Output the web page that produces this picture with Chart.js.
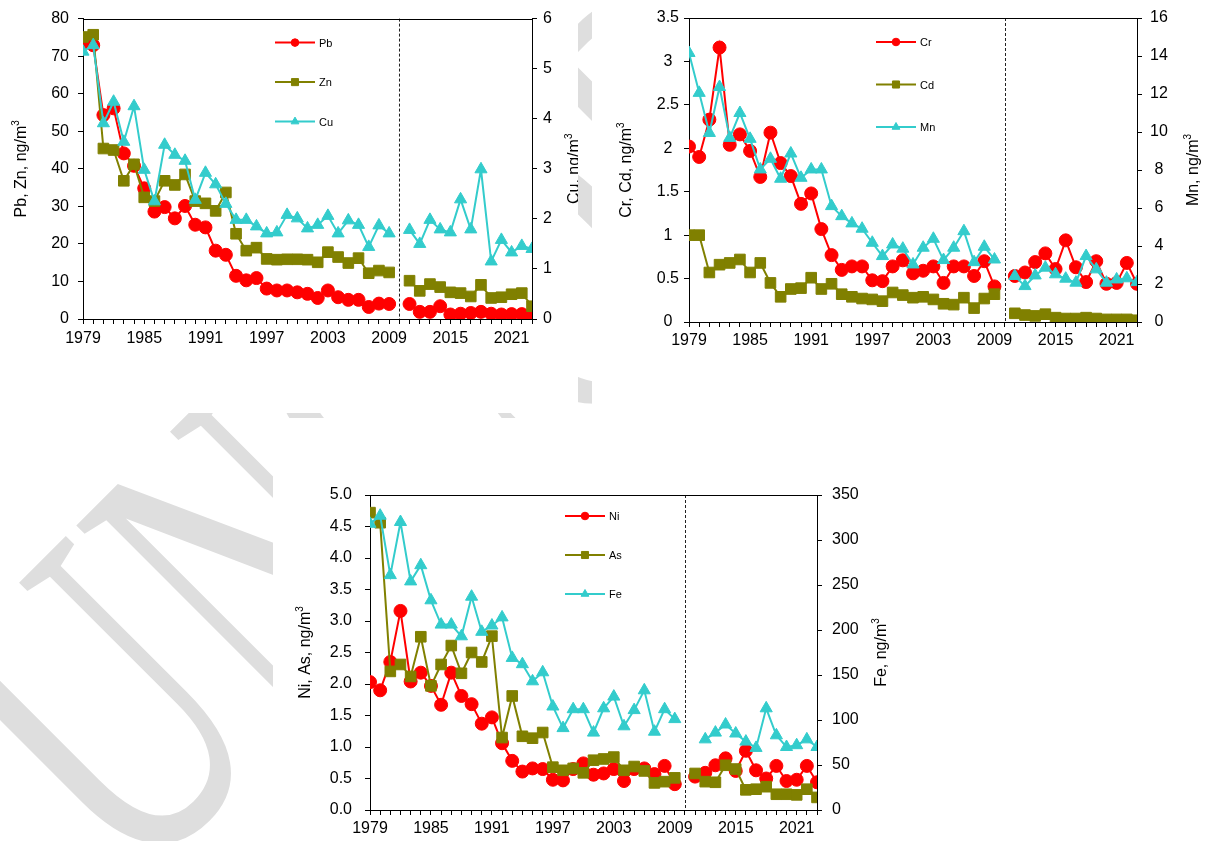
<!DOCTYPE html>
<html>
<head>
<meta charset="utf-8">
<script src="https://cdn.jsdelivr.net/npm/chart.js@4.4.0/dist/chart.umd.min.js"></script>
<style>
  body { margin: 0; background: #fff; width: 1212px; height: 841px; overflow: hidden; position: relative; }
  #bg { position: absolute; left: 0; top: 0; }
  .panel { position: absolute; background: #fff; overflow: hidden; }
  .panel canvas { position: absolute; left: 0; top: 0; }
</style>
</head>
<body>
<canvas id="bg" width="1212" height="841"></canvas>
<div class="panel" style="left:0;top:0;width:578px;height:413px"><canvas id="c1" width="578" height="345"></canvas></div>
<div class="panel" style="left:592px;top:0;width:620px;height:413px"><canvas id="c2" width="620" height="345"></canvas></div>
<div class="panel" style="left:273px;top:418px;width:640px;height:423px"><canvas id="c3" width="640" height="423"></canvas></div>
<script>
"use strict"

const YEARS = [1979, 1980, 1981, 1982, 1983, 1984, 1985, 1986, 1987, 1988, 1989, 1990, 1991, 1992, 1993,
    1994, 1995, 1996, 1997, 1998, 1999, 2000, 2001, 2002, 2003, 2004, 2005, 2006, 2007, 2008, 2009,
    2010, 2011, 2012, 2013, 2014, 2015, 2016, 2017, 2018, 2019, 2020, 2021, 2022, 2023];

// chart 1, ng/m3
const PB = [73.3, 72.9, 54.3, 56.1, 44.1, 40.8, 34.8, 28.6, 29.8, 26.8, 30.1, 25.1, 24.4, 18.2, 17.1,
    11.5, 10.3, 10.9, 8.1, 7.6, 7.6, 7.1, 6.7, 5.6, 7.6, 5.8, 5.1, 5.1, 3.2, 4.1, 4.0,
    null, 4.0, 1.9, 1.9, 3.4, 1.2, 1.4, 1.6, 1.9, 1.4, 1.2, 1.3, 1.3, 0.7];
const ZN = [75.1, 75.7, 45.4, 45.0, 36.8, 41.2, 32.4, 31.4, 36.8, 35.7, 38.5, 31.4, 30.8, 28.8, 33.7,
    22.7, 18.2, 19.0, 16.0, 15.8, 15.9, 15.9, 15.8, 15.1, 17.8, 16.5, 14.9, 16.2, 12.2, 12.9, 12.4,
    null, 10.2, 7.5, 9.3, 8.5, 7.1, 6.9, 6.0, 9.1, 5.6, 5.8, 6.6, 6.9, 3.4];
const CU = [5.34, 5.47, 3.91, 4.34, 3.54, 4.25, 2.98, 2.35, 3.48, 3.28, 3.16, 2.38, 2.92, 2.69, 2.30,
    1.98, 1.98, 1.85, 1.71, 1.73, 2.08, 2.01, 1.81, 1.88, 2.06, 1.71, 1.97, 1.88, 1.44, 1.87, 1.71,
    null, 1.78, 1.50, 1.98, 1.79, 1.73, 2.39, 1.79, 2.99, 1.15, 1.58, 1.33, 1.46, 1.40];

// chart 2
const CR = [2.02, 1.90, 2.33, 3.16, 2.04, 2.16, 1.97, 1.67, 2.18, 1.83, 1.68, 1.36, 1.48, 1.07, 0.77,
    0.60, 0.64, 0.64, 0.48, 0.47, 0.64, 0.71, 0.56, 0.59, 0.64, 0.45, 0.64, 0.64, 0.53, 0.70, 0.41,
    null, 0.53, 0.57, 0.69, 0.79, 0.61, 0.94, 0.63, 0.46, 0.70, 0.44, 0.45, 0.68, 0.44];
const CD = [1.00, 1.00, 0.57, 0.66, 0.68, 0.72, 0.57, 0.68, 0.45, 0.29, 0.38, 0.39, 0.51, 0.38, 0.44,
    0.32, 0.29, 0.27, 0.26, 0.24, 0.34, 0.31, 0.28, 0.29, 0.26, 0.21, 0.20, 0.28, 0.16, 0.27, 0.32,
    null, 0.10, 0.08, 0.07, 0.09, 0.05, 0.04, 0.04, 0.05, 0.04, 0.03, 0.03, 0.03, 0.02];
const MN = [14.16, 12.06, 9.95, 12.37, 9.69, 11.0, 9.64, 8.03, 8.59, 7.54, 8.87, 7.59, 8.03, 8.03, 6.10,
    5.57, 5.19, 4.91, 4.17, 3.47, 4.08, 3.86, 3.03, 3.91, 4.38, 3.26, 3.91, 4.78, 3.15, 3.96, 3.29,
    null, 2.42, 1.89, 2.45, 2.86, 2.51, 2.28, 2.07, 3.47, 2.77, 2.07, 2.24, 2.30, 2.10];

// chart 3
const NI = [2.03, 1.90, 2.35, 3.16, 2.04, 2.18, 1.97, 1.67, 2.18, 1.81, 1.68, 1.37, 1.47, 1.06, 0.78,
    0.61, 0.66, 0.65, 0.48, 0.47, 0.65, 0.74, 0.56, 0.58, 0.65, 0.46, 0.65, 0.66, 0.57, 0.70, 0.41,
    null, 0.53, 0.59, 0.71, 0.82, 0.62, 0.94, 0.63, 0.50, 0.70, 0.46, 0.48, 0.70, 0.44];
const AS = [4.72, 4.56, 2.20, 2.31, 2.12, 2.75, 1.97, 2.31, 2.61, 2.17, 2.50, 2.35, 2.76, 1.15, 1.81,
    1.17, 1.14, 1.23, 0.68, 0.63, 0.66, 0.59, 0.79, 0.81, 0.84, 0.63, 0.69, 0.62, 0.43, 0.45, 0.51,
    null, 0.58, 0.45, 0.44, 0.71, 0.65, 0.32, 0.33, 0.37, 0.25, 0.25, 0.24, 0.33, 0.20];
const FE = [318, 327, 261, 320, 254, 272, 233, 206, 206, 193, 237, 198, 205, 214, 169,
    162, 143, 153, 115, 91, 112, 112, 86, 113, 126, 93, 111, 133, 87, 112, 101,
    null, null, 78.5, 86, 95, 85, 76, 69, 113, 83, 70, 72, 78.5, 70];

const BREAK_YEAR = 2010;

const RED = '#FF0000';
const OLIVE = '#808000';
const CYAN = '#33CCCC';
const FONT = '"Liberation Sans", Arial, sans-serif';

// watermark behind the panels (condensed serif, rotated)
const drawWatermark = () => {
    const ctx = document.getElementById('bg').getContext('2d');
    ctx.save();
    ctx.translate(130, 894);
    ctx.rotate(-Math.PI / 4);
    ctx.scale(0.65, 1);
    ctx.fillStyle = '#dedede';
    ctx.font = '456px "Liberation Serif"';
    ctx.fillText('UNCORRECTED PROOF', 0, 0);
    ctx.restore();
}

const series = (label, data, color, style, axis, order) => {
    const r = style === 'circle' ? 6.5 : (style === 'rect' ? 7.5 : 7);
    return {
        label, data,
        yAxisID: axis,
        order,
        borderColor: color,
        backgroundColor: color,
        pointBackgroundColor: color,
        pointBorderColor: color,
        pointStyle: style,
        pointRadius: r,
        pointHoverRadius: r,
        pointBorderWidth: 1,
        borderWidth: 2,
        tension: 0,
        spanGaps: false
    };
}

const xScale = (height, pad) => ({
    type: 'linear',
    min: 1979,
    max: 2023,
    ticks: {
        stepSize: 1,
        autoSkip: false,
        maxTicksLimit: 100,
        maxRotation: 0,
        minRotation: 0,
        padding: pad,
        color: '#000',
        font: { family: FONT, size: 16 },
        callback: v => ((v - 1979) % 6 === 0 ? String(v) : '')
    },
    grid: { drawOnChartArea: false, tickLength: 5, color: '#000' },
    border: { color: '#000', width: 1 },
    afterFit: s => { s.height = height; }
});

const yScale = (position, max, step, width, pad, fmt, align) => ({
    type: 'linear',
    position,
    min: 0,
    max,
    ticks: {
        stepSize: step,
        padding: pad,
        crossAlign: align || 'near',
        color: '#000',
        font: { family: FONT, size: 16 },
        callback: fmt || (v => String(v))
    },
    grid: { drawOnChartArea: false, tickLength: 5, color: '#000' },
    border: { color: '#000', width: 1 },
    afterFit: s => { s.width = width; }
});

// frame on top of the plot + dashed line where the record breaks
const framePlugin = {
    id: 'frame',
    beforeDatasetsDraw(chart) {
        const { ctx, chartArea: a, scales } = chart;
        const x = Math.round(scales.x.getPixelForValue(BREAK_YEAR)) + 0.5;
        ctx.save();
        ctx.strokeStyle = '#222';
        ctx.lineWidth = 1;
        ctx.setLineDash([3, 2]);
        ctx.beginPath();
        ctx.moveTo(x, a.top);
        ctx.lineTo(x, a.bottom);
        ctx.stroke();
        ctx.setLineDash([]);
        ctx.strokeStyle = '#000';
        ctx.beginPath();
        ctx.moveTo(a.left, Math.round(a.top) + 0.5);
        ctx.lineTo(a.right, Math.round(a.top) + 0.5);
        ctx.stroke();
        ctx.restore();
    }
};

// legend drawn inside the plot area
const legendPlugin = {
    id: 'innerLegend',
    afterDraw(chart, args, opts) {
        const { ctx, chartArea: a } = chart;
        const sizes = { circle: 3.8, rect: 5, triangle: 4.5 };
        ctx.save();
        chart.data.datasets.forEach((ds, i) => {
            const x0 = a.left + opts.left;
            const y = a.top + opts.top + i * opts.gap;
            ctx.strokeStyle = ds.borderColor;
            ctx.fillStyle = ds.borderColor;
            ctx.lineWidth = 2;
            ctx.beginPath();
            ctx.moveTo(x0, y);
            ctx.lineTo(x0 + 40, y);
            ctx.stroke();
            ctx.lineWidth = 1;
            Chart.helpers.drawPoint(ctx, { pointStyle: ds.pointStyle, radius: sizes[ds.pointStyle], borderWidth: 1, rotation: 0 }, x0 + 20, y);
            ctx.fillStyle = '#000';
            ctx.font = '11px ' + FONT;
            ctx.textBaseline = 'middle';
            ctx.textAlign = 'left';
            ctx.fillText(ds.label, x0 + 44, y + 1);
        });
        ctx.restore();
    }
};

// vertical axis titles, both reading upwards, with a raised "3"
const titlePlugin = {
    id: 'sideTitles',
    afterDraw(chart, args, opts) {
        const { ctx, chartArea: a } = chart;
        const yc = (a.top + a.bottom) / 2;
        const size = 16;
        const draw = (t) => {
            ctx.save();
            ctx.translate(t.x, yc);
            ctx.rotate(-Math.PI / 2);
            ctx.fillStyle = '#000';
            ctx.textBaseline = 'alphabetic';
            ctx.textAlign = 'left';
            ctx.font = size + 'px ' + FONT;
            const w1 = ctx.measureText(t.text).width;
            ctx.font = Math.round(size * 0.65) + 'px ' + FONT;
            const w2 = ctx.measureText('3').width;
            const x0 = -(w1 + w2) / 2;
            const base = size * 0.36;
            ctx.font = size + 'px ' + FONT;
            ctx.fillText(t.text, x0, base);
            ctx.font = Math.round(size * 0.65) + 'px ' + FONT;
            ctx.fillText('3', x0 + w1, base - size * 0.42);
            ctx.restore();
        };
        draw(opts.left);
        draw(opts.right);
    }
};

const makeChart = (id, sets, left, right, layout) => {
    return new Chart(document.getElementById(id), {
        type: 'line',
        data: { labels: YEARS, datasets: sets },
        options: {
            responsive: false,
            animation: false,
            devicePixelRatio: 1,
            layout: { padding: { top: layout.top, left: 0, right: 0, bottom: 0 } },
            scales: {
                x: xScale(layout.xh, layout.xpad),
                y: left,
                y2: right
            },
            plugins: {
                legend: { display: false },
                tooltip: { enabled: false },
                innerLegend: layout.legend,
                sideTitles: layout.titles
            }
        },
        plugins: [framePlugin, legendPlugin, titlePlugin]
    });
}

drawWatermark();

makeChart('c1',
    [
        series('Pb', PB, RED, 'circle', 'y', 3),
        series('Zn', ZN, OLIVE, 'rect', 'y', 2),
        series('Cu', CU, CYAN, 'triangle', 'y2', 1)
    ],
    yScale('left', 80, 10, 83, 9),
    yScale('right', 6, 1, 46, 6),
    {
        top: 18, xh: 26, xpad: 5,
        legend: { left: 192, top: 24, gap: 39.5 },
        titles: { left: { text: 'Pb, Zn, ng/m', x: 20 }, right: { text: 'Cu, ng/m', x: 573 } }
    });

makeChart('c2',
    [
        series('Cr', CR, RED, 'circle', 'y', 3),
        series('Cd', CD, OLIVE, 'rect', 'y', 2),
        series('Mn', MN, CYAN, 'triangle', 'y2', 1)
    ],
    yScale('left', 3.5, 0.5, 97, 5, null, 'center'),
    yScale('right', 16, 2, 75, 8, null, 'center'),
    {
        top: 18, xh: 23, xpad: 4,
        legend: { left: 187, top: 24, gap: 42.5 },
        titles: { left: { text: 'Cr, Cd, ng/m', x: 33 }, right: { text: 'Mn, ng/m', x: 600 } }
    });

makeChart('c3',
    [
        series('Ni', NI, RED, 'circle', 'y', 3),
        series('As', AS, OLIVE, 'rect', 'y', 2),
        series('Fe', FE, CYAN, 'triangle', 'y2', 1)
    ],
    yScale('left', 5, 0.5, 97, 13, v => v.toFixed(1)),
    yScale('right', 350, 50, 96, 10),
    {
        top: 77, xh: 31, xpad: 4,
        legend: { left: 195, top: 21, gap: 39 },
        titles: { left: { text: 'Ni, As, ng/m', x: 31 }, right: { text: 'Fe, ng/m', x: 607 } }
    });
</script>
</body>
</html>
